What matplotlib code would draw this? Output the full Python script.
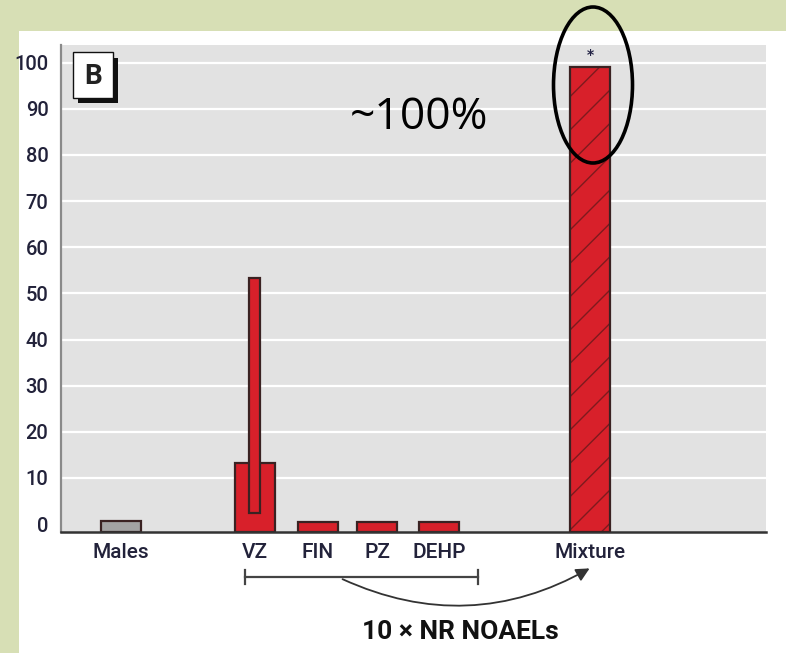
import matplotlib
matplotlib.use("Agg")
import matplotlib.pyplot as plt
from matplotlib.patches import Rectangle, Ellipse, FancyArrowPatch

# ---- data ----
categories = ["Males", "VZ", "FIN", "PZ", "DEHP", "Mixture"]
values = [0.6, 13.2, 0.5, 0.5, 0.5, 99.1]
vz_range = (2.4, 53.4)
yticks = [0, 10, 20, 30, 40, 50, 60, 70, 80, 90, 100]
mixture_signif = "*"
annot_text = "~100%"
group_label = "10 \u00d7 NR NOAELs"
panel_label = "B"

# ---- layout / style ----
W, H = 786, 653
positions = [0.97, 3.15, 4.17, 5.14, 6.15, 8.60]
bar_w = 0.65
ymin, ymax = -1.7, 103.8
red = "#d8202a"
edge = "#3a2222"
green_bg = "#d7dfb5"
panel_bg = "#e2e2e2"
txt_col = "#22223a"
cond = ["Roboto", "DejaVu Sans"]


def fx(px):
    return px / W


def fy(py):
    return 1 - py / H


fig = plt.figure(figsize=(W / 100, H / 100), dpi=100)
fig.patch.set_facecolor(green_bg)
# white panel
fig.patches.append(Rectangle((fx(19), 0), 1 - fx(19), fy(31), transform=fig.transFigure,
                             facecolor="white", edgecolor="none", zorder=-5))

ax = fig.add_axes([fx(61), fy(532), fx(766) - fx(61), fy(45) - fy(532)])
ax.set_zorder(1)
ax.set_facecolor(panel_bg)
ax.set_xlim(0, 11.46)
ax.set_ylim(ymin, ymax)

for t in yticks[1:]:
    ax.axhline(t, color="white", lw=1.6, zorder=1)

colors = ["#a3a3a3", red, red, red, red, red]
for i, (p, v, c) in enumerate(zip(positions, values, colors)):
    if categories[i] == "Mixture":
        ax.bar(p, v - ymin, bottom=ymin, width=bar_w, color=c, edgecolor="#7e1a1e",
               hatch="/", linewidth=0, zorder=2)
        ax.bar(p, v - ymin, bottom=ymin, width=bar_w, color="none", edgecolor=edge,
               linewidth=1.6, zorder=3)
    else:
        ax.bar(p, v - ymin, bottom=ymin, width=bar_w, color=c, edgecolor=edge,
               linewidth=1.6, zorder=2)

# VZ range bar
vz_pos = positions[categories.index("VZ")]
ax.bar(vz_pos, vz_range[1] - vz_range[0], bottom=vz_range[0], width=0.18, color=red,
       edgecolor=edge, linewidth=1.6, zorder=4)

# significance mark
mix_pos = positions[categories.index("Mixture")]
ax.text(mix_pos, values[-1] + 1.0, mixture_signif, ha="center", va="bottom", fontsize=10,
        color="#222244", fontweight="bold", zorder=5)

ax.set_yticks(yticks)
ax.set_yticklabels([str(t) for t in yticks], family=cond, fontsize=14.5, color=txt_col,
                   fontweight="medium")
ax.set_xticks(positions)
ax.set_xticklabels(categories, family=cond, fontsize=15, color=txt_col,
                   fontweight="medium")
ax.tick_params(axis="y", length=0, pad=9)
ax.tick_params(axis="x", length=0, pad=8)

for s in ["top", "right"]:
    ax.spines[s].set_visible(False)
ax.spines["left"].set_color("#8a8a8a")
ax.spines["left"].set_linewidth(1.6)
ax.spines["bottom"].set_color("#333333")
ax.spines["bottom"].set_linewidth(1.8)

# ~100% annotation
fig.text(fx(419), fy(118), annot_text, ha="center", va="center", fontsize=32,
         family=["Open Sans", "DejaVu Sans"], color="black", zorder=10)

# ellipse
fig.patches.append(Ellipse((fx(593), fy(85)), fx(79), 156 / H, transform=fig.transFigure,
                           facecolor="none", edgecolor="black", lw=2.6, zorder=10))

# panel label box B
fig.patches.append(Rectangle((fx(78), fy(103)), fx(40), 45 / H, transform=fig.transFigure,
                             facecolor="#111111", edgecolor="none", zorder=5))
fig.patches.append(Rectangle((fx(73), fy(98)), fx(40), 46 / H, transform=fig.transFigure,
                             facecolor="white", edgecolor="#111111", lw=1.0, zorder=6))
fig.text(fx(93), fy(76), panel_label, ha="center", va="center", fontsize=20,
         fontweight="bold", family=cond, color="#222222", zorder=7)

# bracket
lc = "#444444"
fig.add_artist(plt.Line2D([fx(245), fx(478)], [fy(577), fy(577)], transform=fig.transFigure,
                          color=lc, lw=1.6))
for xb in (245, 478):
    fig.add_artist(plt.Line2D([fx(xb), fx(xb)], [fy(570), fy(584)], transform=fig.transFigure,
                              color=lc, lw=1.6))

# curved arrow
arr = FancyArrowPatch((fx(340), fy(578)), (fx(592), fy(567)), transform=fig.transFigure,
                      connectionstyle="arc3,rad=0.26", arrowstyle="-|>", mutation_scale=20,
                      color="#333333", lw=1.3)
fig.add_artist(arr)

fig.text(fx(460), fy(632), group_label, ha="center", va="center", fontsize=19,
         fontweight="bold", family=cond, color="#111111")

fig.savefig("out.png", dpi=100, facecolor=fig.get_facecolor())
